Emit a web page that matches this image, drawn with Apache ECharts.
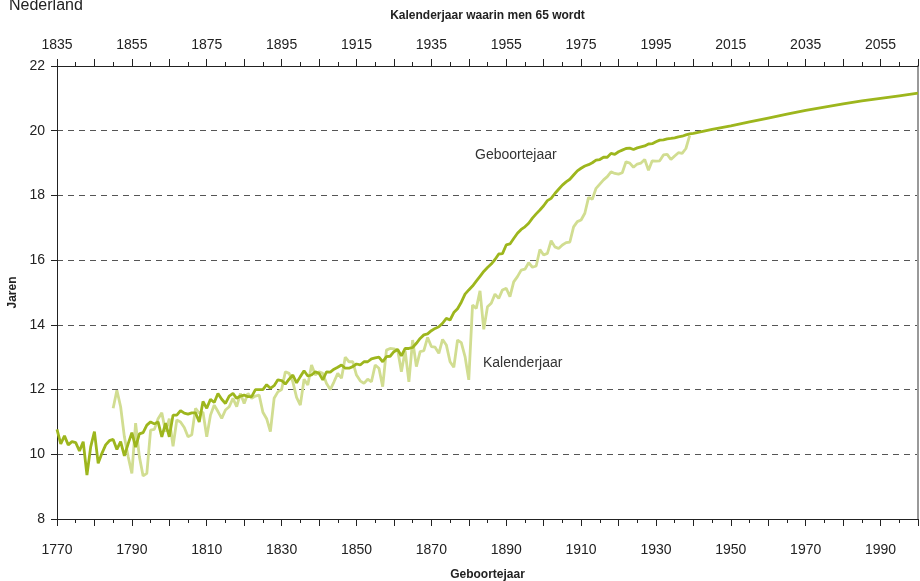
<!DOCTYPE html>
<html>
<head>
<meta charset="utf-8">
<script src="https://cdn.jsdelivr.net/npm/echarts@6/dist/echarts.min.js"></script>
<style>
  html, body { margin: 0; padding: 0; background: #fff; }
  #chart { width: 920px; height: 581px; }
</style>
</head>
<body>
<div id="chart"></div>
<script>
// geboortejaar (birth cohort), yearly values 1770-1940
const cohortStart = 1770
const cohortValues = [
  10.77, 10.32, 10.57, 10.29, 10.39, 10.36, 10.1, 10.39, 9.36, 10.23,
  10.7, 9.72, 10.03, 10.29, 10.42, 10.46, 10.15, 10.39, 9.95, 10.32,
  10.67, 10.22, 10.63, 10.67, 10.9, 11.0, 10.94, 11.0, 10.54, 10.96,
  10.54, 11.21, 11.21, 11.35, 11.27, 11.24, 11.28, 11.28, 11.0, 11.63,
  11.42, 11.7, 11.6, 11.88, 11.7, 11.57, 11.8, 11.88, 11.73, 11.8,
  11.83, 11.78, 11.78, 12.0, 12.0, 12.0, 12.15, 12.04, 12.12, 12.3,
  12.28, 12.17, 12.32, 12.45, 12.21, 12.4, 12.58, 12.42, 12.45, 12.55,
  12.5, 12.3, 12.55, 12.54, 12.63, 12.69, 12.76, 12.66, 12.66, 12.71,
  12.79, 12.76, 12.86, 12.86, 12.95, 12.98, 13.0, 12.86, 13.02, 13.03,
  13.17, 13.24, 13.04, 13.27, 13.27, 13.3, 13.43, 13.58, 13.69, 13.72,
  13.82, 13.89, 13.94, 14.05, 14.2, 14.15, 14.38, 14.5, 14.7, 14.95,
  15.08, 15.2, 15.35, 15.5, 15.65, 15.77, 15.88, 16.02, 16.19, 16.2,
  16.47, 16.5, 16.67, 16.83, 16.95, 17.03, 17.14, 17.3, 17.43, 17.55,
  17.68, 17.84, 17.91, 18.06, 18.19, 18.32, 18.42, 18.5, 18.63, 18.76,
  18.84, 18.91, 18.95, 19.01, 19.09, 19.11, 19.18, 19.18, 19.3, 19.27,
  19.35, 19.4, 19.45, 19.46, 19.42, 19.47, 19.5, 19.53, 19.59, 19.6,
  19.66, 19.71, 19.72, 19.75, 19.76, 19.78, 19.81, 19.83, 19.87, 19.9,
  19.92
]
// projected part, every 5 years
const projYears = [1945, 1950, 1955, 1960, 1965, 1970, 1975, 1980, 1985, 1990, 1995, 2000]
const projValues = [20.04, 20.15, 20.27, 20.39, 20.51, 20.63, 20.73, 20.83, 20.92, 21.0, 21.08, 21.16]

// kalenderjaar (period), plotted at calendar year - 65, 1785-1939
const periodStart = 1785
const periodValues = [
  11.42, 11.98, 11.47, 10.54, 9.93, 9.41, 10.96, 9.93, 9.33, 9.41,
  10.75, 10.77, 11.1, 11.28, 10.7, 11.1, 10.25, 11.06, 11.0, 10.83,
  10.54, 10.6, 11.42, 11.27, 11.3, 10.54, 11.21, 11.52, 11.32, 11.11,
  11.37, 11.47, 11.73, 11.47, 11.88, 11.57, 11.88, 11.73, 11.8, 11.83,
  11.3, 11.1, 10.7, 11.73, 11.93, 12.0, 12.55, 12.5, 12.24, 11.76,
  11.52, 12.32, 12.14, 12.76, 12.45, 12.55, 12.5, 12.19, 12.0, 12.24,
  12.5, 12.35, 13.0, 12.86, 12.86, 12.45, 12.27, 12.19, 12.32, 12.24,
  12.76, 12.66, 12.09, 13.22, 13.27, 13.26, 13.22, 12.55, 13.2, 12.24,
  13.53, 12.71, 13.17, 13.2, 13.61, 13.33, 13.31, 13.12, 13.55, 13.38,
  12.86, 12.69, 13.53, 13.45, 13.02, 12.3, 14.61, 14.51, 15.05, 13.86,
  14.56, 14.67, 14.95, 14.82, 15.08, 15.13, 14.87, 15.33, 15.49, 15.69,
  15.72, 15.92, 15.78, 15.82, 16.33, 16.16, 16.21, 16.6, 16.41, 16.36,
  16.47, 16.54, 16.56, 17.03, 17.19, 17.24, 17.45, 17.94, 17.88, 18.22,
  18.35, 18.48, 18.58, 18.73, 18.68, 18.66, 18.7, 19.04, 19.0, 18.87,
  18.97, 19.0, 19.11, 18.78, 19.07, 19.06, 19.07, 19.25, 19.27, 19.11,
  19.22, 19.32, 19.3, 19.45, 19.85
]

const yearOffset = 65

const cohortData = cohortValues.map((v, i) => [cohortStart + i, v])
  .concat(projYears.map((y, i) => [y, projValues[i]]))
const periodData = periodValues.map((v, i) => [periodStart + i, v])

const labelEvery20 = (v) => ((v - 1770) % 20 === 0 ? String(v) : '')

const chart = echarts.init(document.getElementById('chart'))
chart.setOption({
  animation: false,
  title: {
    text: 'Nederland',
    left: 4,
    top: -7,
    textStyle: { fontFamily: 'Liberation Sans', fontSize: 16, fontWeight: 'normal', color: '#222' }
  },
  grid: { left: 57, right: 2, top: 66, bottom: 62, outerBoundsMode: 'none', containLabel: false },
  xAxis: [
    {
      type: 'value',
      position: 'bottom',
      min: 1770,
      max: 2000,
      interval: 10,
      name: 'Geboortejaar',
      nameLocation: 'middle',
      nameGap: 50,
      nameTextStyle: { fontFamily: 'Liberation Sans', fontSize: 12, fontWeight: 'bold', color: '#222' },
      axisLine: { onZero: false, lineStyle: { color: '#222', width: 1 } },
      axisTick: { length: 7, lineStyle: { color: '#222' } },
      minorTick: { show: true, splitNumber: 2, length: 4, lineStyle: { color: '#222' } },
      axisLabel: { formatter: labelEvery20, margin: 24, fontFamily: 'Liberation Sans', fontSize: 14, color: '#222', showMaxLabel: false },
      splitLine: { show: false }
    },
    {
      type: 'value',
      position: 'top',
      min: 1770,
      max: 2000,
      interval: 10,
      name: 'Kalenderjaar waarin men 65 wordt',
      nameLocation: 'middle',
      nameGap: 44,
      nameTextStyle: { fontFamily: 'Liberation Sans', fontSize: 12, fontWeight: 'bold', color: '#222' },
      axisLine: { onZero: false, lineStyle: { color: '#222', width: 1 } },
      axisTick: { length: 7, lineStyle: { color: '#222' } },
      minorTick: { show: true, splitNumber: 2, length: 4, lineStyle: { color: '#222' } },
      axisLabel: {
        formatter: (v) => ((v - 1770) % 20 === 0 ? String(v + yearOffset) : ''),
        margin: 14, fontFamily: 'Liberation Sans', fontSize: 14, color: '#222', showMaxLabel: false
      },
      splitLine: { show: false }
    }
  ],
  yAxis: [
    {
      type: 'value',
      min: 8,
      max: 22,
      interval: 2,
      name: 'Jaren',
      nameLocation: 'middle',
      nameGap: 38,
      nameTextStyle: { fontFamily: 'Liberation Sans', fontSize: 12, fontWeight: 'bold', color: '#222' },
      axisLine: { show: true, lineStyle: { color: '#222', width: 1 } },
      axisTick: { show: true, length: 6, lineStyle: { color: '#222' } },
      axisLabel: { margin: 12, fontFamily: 'Liberation Sans', fontSize: 14, color: '#222' },
      splitLine: { show: true, lineStyle: { color: '#555', type: [6, 5], width: 1 } }
    },
    {
      type: 'value',
      position: 'right',
      min: 8,
      max: 22,
      axisLine: { show: true, lineStyle: { color: '#999', width: 2 } },
      axisTick: { show: false },
      axisLabel: { show: false },
      splitLine: { show: false }
    }
  ],
  graphic: [
    { type: 'text', left: 475, top: 148, style: { text: 'Geboortejaar', fontFamily: 'Liberation Sans', fontSize: 14, fill: '#333' } },
    { type: 'text', left: 483, top: 356, style: { text: 'Kalenderjaar', fontFamily: 'Liberation Sans', fontSize: 14, fill: '#333' } }
  ],
  series: [
    {
      name: 'Kalenderjaar',
      type: 'line',
      data: periodData,
      showSymbol: false,
      lineStyle: { color: '#d1dd91', width: 2.8 },
      z: 2
    },
    {
      name: 'Geboortejaar',
      type: 'line',
      data: cohortData,
      showSymbol: false,
      lineStyle: { color: '#9db61d', width: 2.8 },
      z: 3
    }
  ]
})
</script>
</body>
</html>
